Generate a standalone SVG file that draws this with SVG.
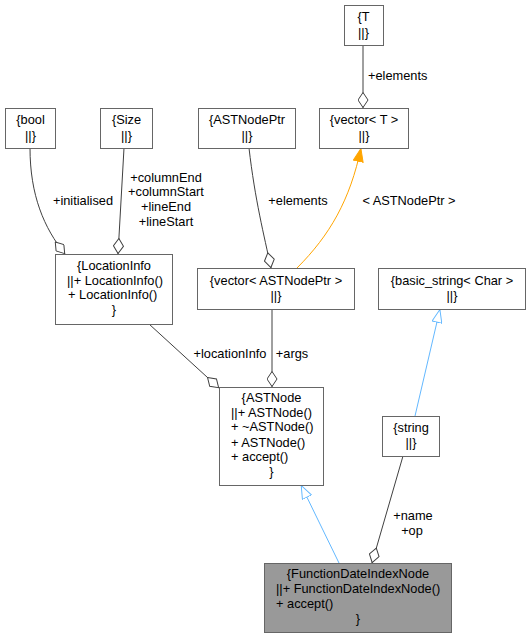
<svg xmlns="http://www.w3.org/2000/svg" width="531" height="637" viewBox="0 0 531 637">
<style>
.box{fill:#ffffff;stroke:#666666;stroke-width:1}
.sel{fill:#999999;stroke:#666666;stroke-width:1}
text{font-family:"Liberation Sans",Arial,sans-serif;font-size:12.8px;fill:#000000}
.c{text-anchor:middle}
.e{fill:none;stroke:#404040;stroke-width:1}
.inh{fill:none;stroke:#63b8ff;stroke-width:1}
.tpl{fill:none;stroke:#ffa500;stroke-width:1}
</style>
<defs>
<marker id="dia" markerUnits="userSpaceOnUse" viewBox="0 0 16 11" refX="16" refY="5.5" markerWidth="16" markerHeight="11" orient="auto">
<path d="M0.5,5.5 L8,0.5 L15.5,5.5 L8,10.5 Z" fill="#ffffff" stroke="#404040" stroke-width="1"/>
</marker>
<marker id="tri" markerUnits="userSpaceOnUse" viewBox="0 0 14 11" refX="14" refY="5.5" markerWidth="14" markerHeight="11" orient="auto">
<path d="M0.5,0.5 L13.5,5.5 L0.5,10.5 Z" fill="#ffffff" stroke="#63b8ff" stroke-width="1"/>
</marker>
<marker id="ora" markerUnits="userSpaceOnUse" viewBox="0 0 14 11" refX="14" refY="5.5" markerWidth="14" markerHeight="11" orient="auto">
<path d="M0.5,0.5 L13.5,5.5 L0.5,10.5 Z" fill="#ffa500" stroke="#ffa500" stroke-width="1"/>
</marker>
</defs>
<g id="edges">
<path class="e" d="M363,45 L363,108" marker-end="url(#dia)"/>
<path class="e" d="M30,148 C30,195 44,228 65,254" marker-end="url(#dia)"/>
<path class="e" d="M124,148 L118,254" marker-end="url(#dia)"/>
<path class="e" d="M249,148 C255,200 264,235 271,268" marker-end="url(#dia)"/>
<path class="tpl" d="M297,268 C330,235 350,200 361,148" marker-end="url(#ora)"/>
<path class="e" d="M149,324 L219,388" marker-end="url(#dia)"/>
<path class="e" d="M272,309 L272,387" marker-end="url(#dia)"/>
<path class="inh" d="M415,416 L440,309" marker-end="url(#tri)"/>
<path class="inh" d="M339,563 L301,485" marker-end="url(#tri)"/>
<path class="e" d="M403,456 L372,563" marker-end="url(#dia)"/>
<text x="368" y="80">+elements</text>
<text class="c" x="83" y="205">+initialised</text>
<text class="c" x="166" y="182">+columnEnd</text>
<text class="c" x="166" y="196">+columnStart</text>
<text class="c" x="166" y="211">+lineEnd</text>
<text class="c" x="166" y="226">+lineStart</text>
<text class="c" x="298" y="205">+elements</text>
<text class="c" x="409" y="205">&lt; ASTNodePtr &gt;</text>
<text class="c" x="230" y="358">+locationInfo</text>
<text class="c" x="292" y="358">+args</text>
<text class="c" x="413" y="520">+name</text>
<text class="c" x="412" y="535">+op</text>
</g>
<g id="T">
<rect class="box" x="344.5" y="5.5" width="39" height="40"/>
<text class="c" x="363.5" y="21">{T</text>
<text class="c" x="363.5" y="37">||}</text>
</g>
<g id="bool">
<rect class="box" x="5.5" y="108.5" width="50" height="40"/>
<text class="c" x="30.5" y="124">{bool</text>
<text class="c" x="30.5" y="140">||}</text>
</g>
<g id="Size">
<rect class="box" x="100.5" y="108.5" width="52" height="40"/>
<text class="c" x="126.5" y="124">{Size</text>
<text class="c" x="126.5" y="140">||}</text>
</g>
<g id="ASTNodePtr">
<rect class="box" x="198.5" y="108.5" width="97" height="40"/>
<text class="c" x="247" y="124">{ASTNodePtr</text>
<text class="c" x="247" y="140">||}</text>
</g>
<g id="vectorT">
<rect class="box" x="319.5" y="108.5" width="89" height="40"/>
<text class="c" x="364" y="124">{vector&lt; T &gt;</text>
<text class="c" x="364" y="140">||}</text>
</g>
<g id="LocationInfo">
<rect class="box" x="55.5" y="254.5" width="117" height="70"/>
<text class="c" x="114" y="270">{LocationInfo</text>
<text x="67" y="285">||+ LocationInfo()</text>
<text x="68" y="299">+ LocationInfo()</text>
<text class="c" x="114" y="314">}</text>
</g>
<g id="vectorASTNodePtr">
<rect class="box" x="197.5" y="268.5" width="157" height="41"/>
<text class="c" x="276" y="285">{vector&lt; ASTNodePtr &gt;</text>
<text class="c" x="276" y="300">||}</text>
</g>
<g id="basic_string">
<rect class="box" x="378.5" y="268.5" width="147" height="41"/>
<text class="c" x="452" y="285">{basic_string&lt; Char &gt;</text>
<text class="c" x="452" y="300">||}</text>
</g>
<g id="ASTNode">
<rect class="box" x="219.5" y="387.5" width="104" height="98"/>
<text class="c" x="271.5" y="402">{ASTNode</text>
<text x="231" y="417">||+ ASTNode()</text>
<text x="231" y="431">+ ~ASTNode()</text>
<text x="231" y="447">+ ASTNode()</text>
<text x="231" y="461">+ accept()</text>
<text class="c" x="271.5" y="476">}</text>
</g>
<g id="string">
<rect class="box" x="382.5" y="416.5" width="57" height="40"/>
<text class="c" x="411" y="432">{string</text>
<text class="c" x="411" y="447">||}</text>
</g>
<g id="FunctionDateIndexNode">
<rect class="sel" x="264.5" y="563.5" width="187" height="69"/>
<text class="c" x="358" y="578">{FunctionDateIndexNode</text>
<text x="276" y="593">||+ FunctionDateIndexNode()</text>
<text x="276" y="608">+ accept()</text>
<text class="c" x="358" y="623">}</text>
</g>
</svg>
